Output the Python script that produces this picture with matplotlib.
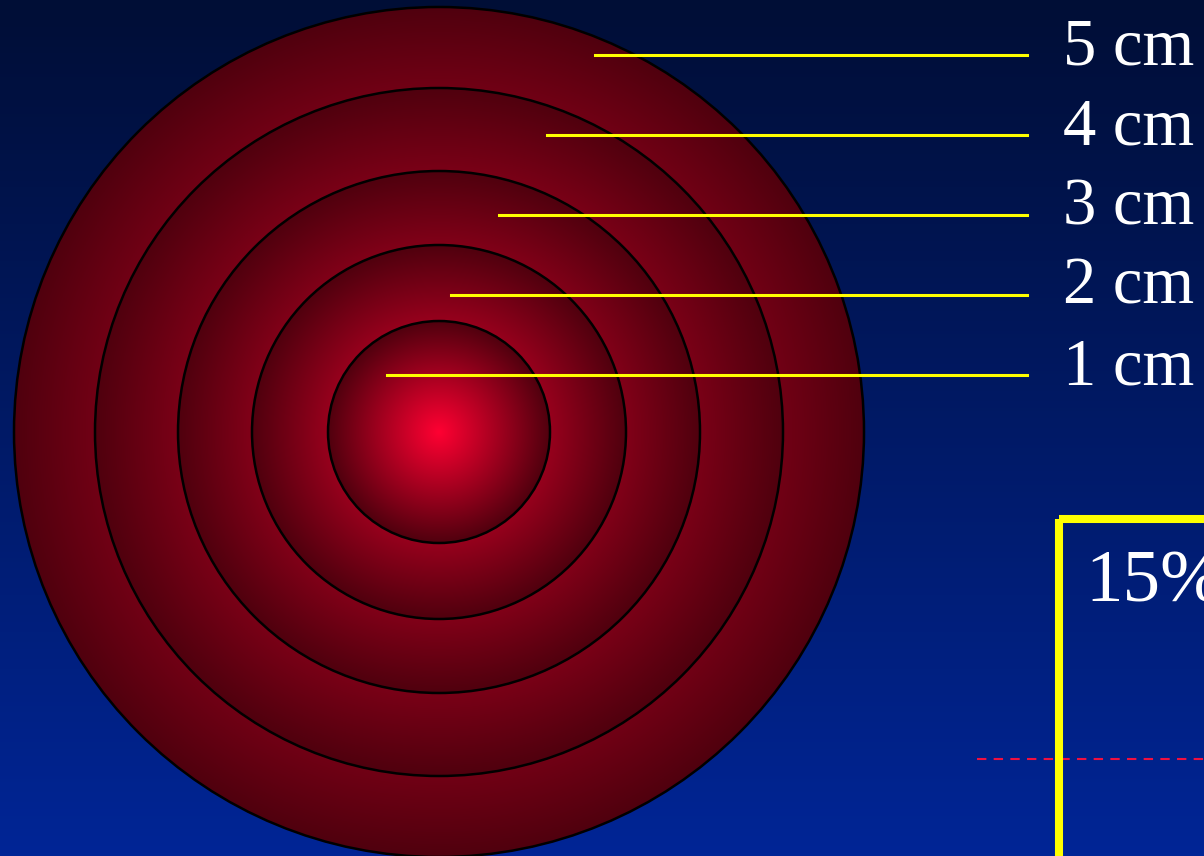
import numpy as np
import matplotlib
matplotlib.use('Agg')
import matplotlib.pyplot as plt
from matplotlib.patches import Circle, Rectangle

# ring sizes (pixel radii) and their labels
labels = ['1 cm', '2 cm', '3 cm', '4 cm', '5 cm']
radii = [111, 187, 261, 344, 425]
line_y = [375, 295, 215, 135, 55]
line_x0 = [387, 451, 499, 547, 595]
pct_text = '15%'

W, H = 1204, 856
cx, cy = 439, 432

fig = plt.figure(figsize=(12.04, 8.56), dpi=100)
ax = fig.add_axes([0, 0, 1, 1])
ax.set_xlim(0, W)
ax.set_ylim(H, 0)
ax.axis('off')

# background: vertical blue gradient
top = np.array([0, 14, 54]) / 255
bot = np.array([0, 37, 150]) / 255
t = np.linspace(0, 1, 256)[:, None]
bg = top + (bot - top) * t
ax.imshow(bg[:, None, :].repeat(2, axis=1), extent=[0, W, H, 0], aspect='auto', zorder=0)

# radial gradient for each disc, biggest first
c_in = np.array([255, 0, 50]) / 255
c_out = np.array([80, 0, 14]) / 255
n = 400
for i in range(len(radii) - 1, -1, -1):
    r = radii[i]
    g = np.linspace(-1, 1, n)
    xx, yy = np.meshgrid(g, g)
    rr = np.clip(np.sqrt(xx**2 + yy**2), 0, 1)[..., None]
    img = c_in + (c_out - c_in) * rr
    im = ax.imshow(img, extent=[cx - r, cx + r, cy + r, cy - r], zorder=1 + (5 - i) * 0.1)
    circ = Circle((cx, cy), r, facecolor='none', edgecolor='black', lw=1.8,
                  zorder=1.05 + (5 - i) * 0.1)
    ax.add_patch(circ)
    im.set_clip_path(circ)

# leader lines and labels
for lab, y, x0 in zip(labels, line_y, line_x0):
    ax.plot([x0, 1027], [y, y], color='#ffff00', lw=2.2, zorder=3)
    ax.text(1063, y + 9, lab, color='white', fontsize=48, family='Liberation Serif',
            va='baseline', ha='left', zorder=4)

# yellow box and dashed red line
ax.add_patch(Rectangle((1059, 519), 400, 500, facecolor='none', edgecolor='#ffff00',
                       lw=5.8, zorder=3))
ax.plot([977, W], [759, 759], color='#f01040', lw=1.5, ls=(0, (4.5, 3.5)), zorder=2)
ax.text(1085, 602, pct_text, color='white', fontsize=54, family='Liberation Serif',
        va='baseline', ha='left', zorder=4)

fig.savefig('out.png', dpi=100)
